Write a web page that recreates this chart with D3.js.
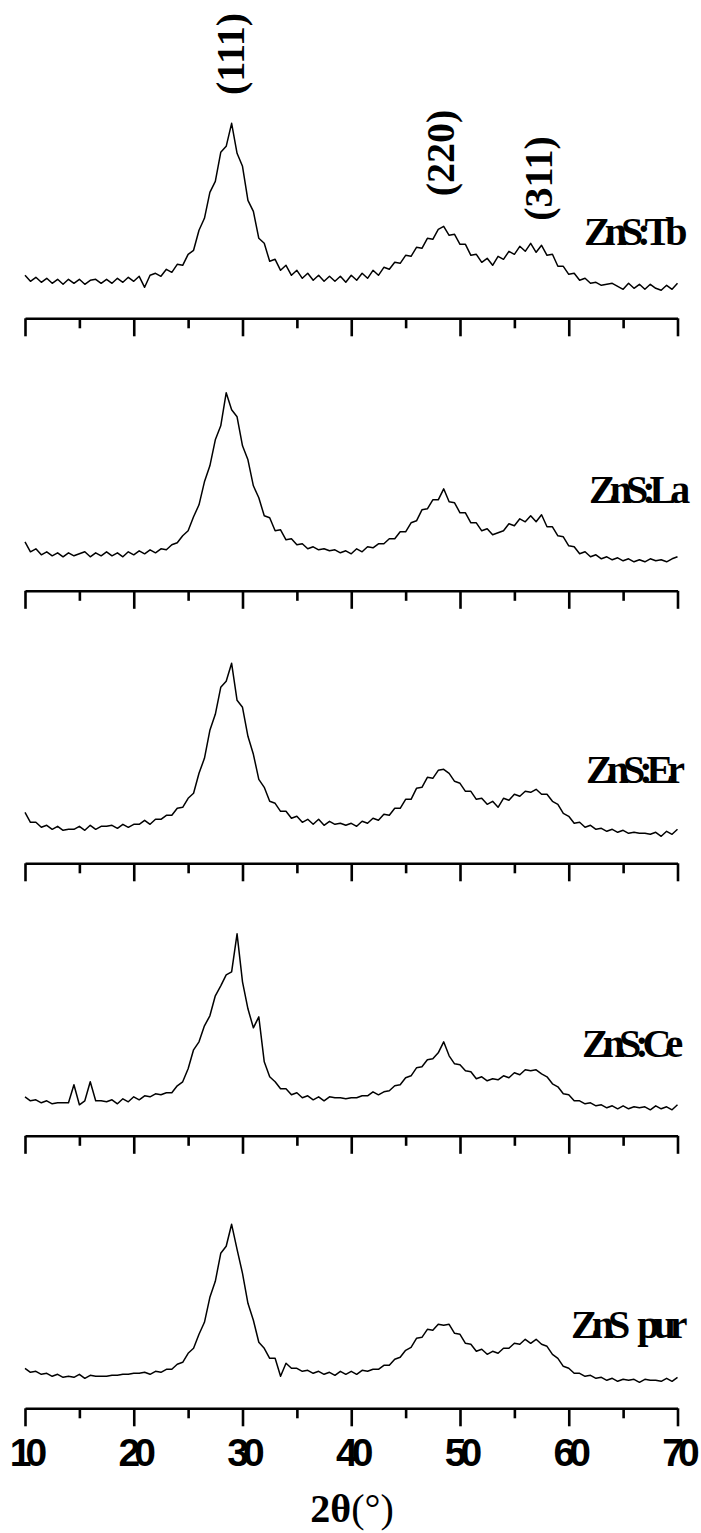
<!DOCTYPE html>
<html>
<head>
<meta charset="utf-8">
<script src="https://cdn.jsdelivr.net/npm/d3@7"></script>
<style>
  html, body { margin: 0; padding: 0; background: #fff; }
  svg { display: block; }
</style>
</head>
<body>
<svg id="chart" width="701" height="1533"></svg>
<script>
// ---------- DATA ----------
// 2θ sampling (degrees): 10.0, 10.5, ... 70.0
const twoTheta = d3.range(121).map(i => 10 + i * 0.5);

const samples = ["ZnS:Tb", "ZnS:La", "ZnS:Er", "ZnS:Ce", "ZnS pur"];

// intensities (a.u.) at 0.5° steps (noisy traces)
const intTb = [
  43,37,41,36,40,35,39,34,39,35,
  39,34,38,39,35,39,35,40,36,41,
  37,42,31,43,45,42,49,46,54,53,
  64,68,88,100,126,137,166,172,195,165,
  152,118,107,80,75,57,59,48,53,43,
  48,40,45,38,43,37,42,37,42,36,
  43,38,45,40,48,43,51,49,56,55,
  63,62,71,70,80,79,89,92,83,84,
  74,74,63,64,56,60,53,62,59,67,
  64,72,67,75,66,73,63,64,52,52,
  44,45,38,40,35,36,33,34,35,32,
  29,35,30,34,29,34,30,28,33,29,
  35];
const intLa = [
  49,39,42,36,39,35,38,34,38,35,
  37,39,34,38,35,39,35,38,34,39,
  36,40,37,41,38,42,41,46,48,55,
  60,74,86,109,125,151,165,198,181,174,
  145,131,105,93,75,73,60,61,51,52,
  46,47,42,44,41,42,40,41,38,40,
  37,42,39,44,43,47,47,52,52,59,
  59,68,70,81,82,91,91,102,89,88,
  78,78,68,68,60,62,56,58,60,67,
  65,72,69,75,69,76,64,64,55,54,
  45,44,37,39,34,36,32,34,31,33,
  30,32,29,31,29,32,30,31,29,32,
  34];
const intEr = [
  51,41,41,36,38,34,37,33,34,34,
  37,33,38,34,37,37,38,35,39,36,
  39,39,43,39,44,44,48,48,55,56,
  65,70,90,105,133,149,176,182,200,163,
  156,127,109,84,76,62,60,52,52,45,
  47,41,44,39,44,38,42,39,40,38,
  40,37,42,40,45,43,49,48,55,55,
  64,64,75,76,86,85,93,94,90,82,
  80,72,72,64,65,59,62,56,65,63,
  69,67,72,71,74,69,69,62,59,50,
  47,40,41,36,38,34,35,32,34,31,
  33,30,31,30,30,29,31,27,32,29,
  34];
const intCe = [
  39,35,36,33,35,32,33,33,33,51,
  31,35,54,35,35,34,36,32,37,34,
  39,36,40,39,42,41,43,43,50,54,
  67,86,94,110,120,140,150,161,164,202,
  154,127,108,119,74,59,54,47,47,41,
  43,38,40,36,39,35,39,38,38,37,
  38,38,40,40,44,41,44,45,50,51,
  58,60,68,69,76,77,83,94,80,72,
  71,65,64,57,59,55,57,56,60,58,
  63,61,66,65,66,62,59,52,49,42,
  41,35,35,32,33,30,31,28,30,27,
  30,27,29,28,29,26,30,27,29,26,
  31];
const intPur = [
  40,36,37,34,35,32,34,31,32,31,
  34,30,33,32,32,32,33,33,34,34,
  35,35,36,34,37,36,39,39,44,46,
  55,60,74,86,111,127,155,162,184,159,
  135,105,88,66,60,50,50,32,45,40,
  40,37,38,35,37,34,36,33,37,34,
  37,34,38,37,39,39,43,43,49,51,
  58,61,70,71,79,78,84,83,84,75,
  74,65,64,57,59,54,57,55,60,60,
  65,64,69,65,69,64,62,54,50,42,
  40,35,35,32,33,30,31,28,30,27,
  29,28,29,26,29,28,28,27,30,27,
  31];

const seriesList = [intTb, intLa, intEr, intCe, intPur];

const hklLabels = ["(111)", "(220)", "(311)"];

const majorTicks = [10, 20, 30, 40, 50, 60, 70];
const minorTicks = [15, 25, 35, 45, 55, 65];
const xTitle = "2θ";

// ---------- LAYOUT ----------
const W = 701, H = 1533;
const axisY = [318.3, 590.8, 863.3, 1135.8, 1408.3];
const panelH = 250;
const labelX = [584, 589, 586, 582, 571];
const labelDy = [73, 88, 80, 79, 70];
const labelSpacing = [-6, -6, -6, -6, -6];
const hklBaseX = [243.5, 453.5, 552];
const hklCenterY = [54, 153, 178.5];

const svg = d3.select("#chart");
svg.append("rect").attr("width", W).attr("height", H).attr("fill", "#fff");

const x = d3.scaleLinear().domain([10, 70]).range([25, 677.5]);

const serif = "'Liberation Serif', 'Times New Roman', Times, serif";
const sans = "'Liberation Sans', Arial, Helvetica, sans-serif";

seriesList.forEach((vals, i) => {
  const y = d3.scaleLinear().domain([0, panelH]).range([axisY[i], axisY[i] - panelH]);
  const g = svg.append("g");

  // curve
  const line = d3.line().x((d, k) => x(twoTheta[k])).y(d => y(d));
  g.append("path")
    .datum(vals)
    .attr("d", line)
    .attr("fill", "none")
    .attr("stroke", "#000")
    .attr("stroke-width", 1.5)
    .attr("stroke-linejoin", "round");

  // axis: major ticks
  const axMajor = d3.axisBottom(x).tickValues(majorTicks).tickSize(18).tickSizeOuter(0)
    .tickFormat(i === seriesList.length - 1 ? d3.format("d") : () => "");
  const ga = g.append("g").attr("transform", `translate(0,${axisY[i]})`).call(axMajor);
  ga.select(".domain").attr("stroke", "#000").attr("stroke-width", 2.6);
  ga.selectAll(".tick line").attr("stroke", "#000").attr("stroke-width", 2.6);
  ga.selectAll(".tick text")
    .attr("y", 58).attr("dy", 0)
    .attr("fill", "#000")
    .style("font-family", sans)
    .style("font-weight", "bold")
    .style("font-size", "39px")
    .style("letter-spacing", "-6px");

  // minor ticks
  const axMinor = d3.axisBottom(x).tickValues(minorTicks).tickSize(10).tickFormat(() => "");
  const gm = g.append("g").attr("transform", `translate(0,${axisY[i]})`).call(axMinor);
  gm.select(".domain").remove();
  gm.selectAll(".tick line").attr("stroke", "#000").attr("stroke-width", 2.6);

  // sample label
  g.append("text")
    .attr("x", labelX[i])
    .attr("y", axisY[i] - labelDy[i])
    .attr("fill", "#000")
    .style("font-family", serif)
    .style("font-weight", "bold")
    .style("font-size", "40px")
    .style("letter-spacing", labelSpacing[i] + "px")
    .style("word-spacing", "9px")
    .text(samples[i]);
});

// hkl labels (rotated)
hklLabels.forEach((t, k) => {
  svg.append("text")
    .attr("transform", `translate(${hklBaseX[k]},${hklCenterY[k]}) rotate(-90)`)
    .attr("text-anchor", "middle")
    .attr("fill", "#000")
    .style("font-family", serif)
    .style("font-weight", "bold")
    .style("font-size", "40px")
    .text(t);
});

// x-axis title
const title = svg.append("text")
  .attr("x", 352)
  .attr("y", 1522)
  .attr("text-anchor", "middle")
  .attr("fill", "#000")
  .style("font-family", serif)
  .style("font-size", "40px");
title.append("tspan").style("font-weight", "bold").text(xTitle);
title.append("tspan").text("(°)");
</script>
</body>
</html>
